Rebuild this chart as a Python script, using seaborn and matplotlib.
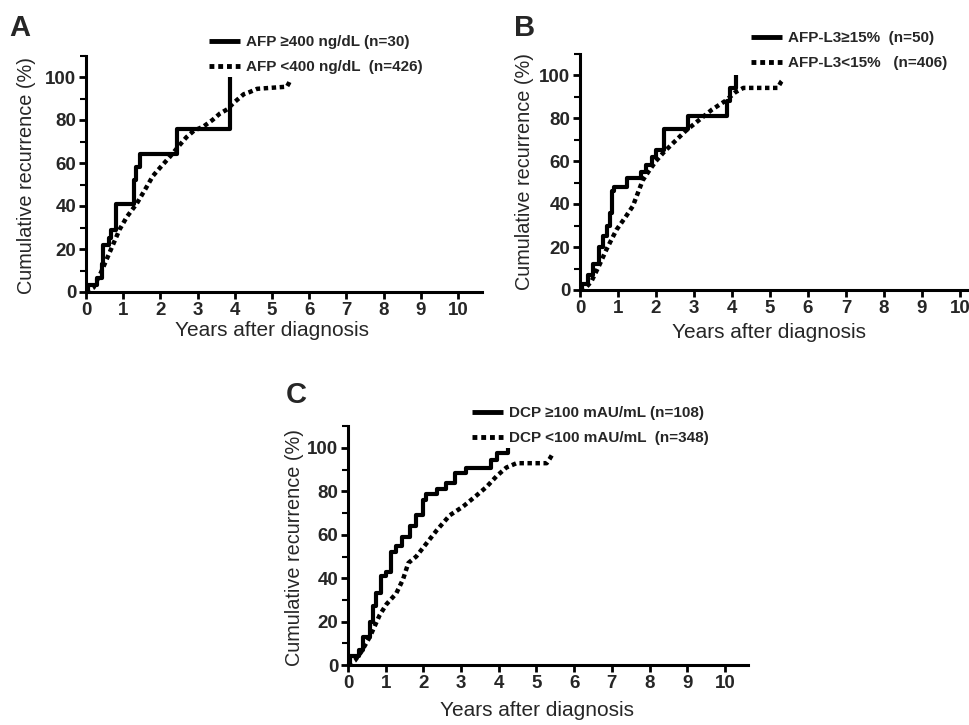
import numpy as np
import pandas as pd
import matplotlib
matplotlib.use("Agg")
import matplotlib.pyplot as plt
from matplotlib.ticker import MultipleLocator
import seaborn as sns

# ---------------- data ----------------
# Panel A: AFP
a_hi_t = [0, 0.05, 0.3, 0.42, 0.47, 0.62, 0.68, 0.8, 1.3, 1.35, 1.45, 2.45, 3.86]
a_hi_y = [0, 3.3, 6.7, 13, 22, 25, 29, 41, 52, 58, 64, 76, 100]
a_lo_t = [0, 0.2, 0.4, 0.6, 0.9, 1.1, 1.36, 1.6, 1.8, 2.0, 2.26, 2.5, 2.7, 2.9,
          3.16, 3.4, 3.6, 3.8, 3.97, 4.24, 4.4, 4.6, 5.4, 5.45, 5.5]
a_lo_y = [0, 2, 9, 17, 29, 35, 41, 48, 54, 58, 63, 68, 72, 75,
          77, 80, 83, 85, 88, 92, 93, 94.5, 95.5, 97, 99]
a_labels = ["AFP \u2265400 ng/dL (n=30)", "AFP <400 ng/dL  (n=426)"]

# Panel B: AFP-L3
b_hi_t = [0, 0.05, 0.2, 0.35, 0.5, 0.6, 0.7, 0.8, 0.85, 0.9, 1.25, 1.6, 1.75,
          1.9, 2.0, 2.2, 2.85, 3.87, 3.95, 4.1]
b_hi_y = [0, 3, 7, 12, 20, 25, 30, 36, 46, 48, 52, 55, 58,
          62, 65, 75, 81, 88, 94, 100]
b_lo_t = [0, 0.15, 0.3, 0.52, 0.7, 0.96, 1.2, 1.39, 1.65, 1.8, 2.0, 2.2, 2.43,
          2.78, 3.13, 3.48, 3.83, 4.09, 4.3, 5.2, 5.3, 5.35]
b_lo_y = [0, 1, 4, 12, 19, 28, 34, 39, 51, 55, 60, 64, 68,
          74, 79, 84, 88, 92, 94, 94, 97, 98]
b_labels = ["AFP-L3\u226515%  (n=50)", "AFP-L3<15%   (n=406)"]

# Panel C: DCP
c_hi_t = [0, 0.04, 0.3, 0.4, 0.58, 0.66, 0.75, 0.88, 1.0, 1.15, 1.28, 1.42,
          1.64, 1.81, 1.99, 2.08, 2.35, 2.6, 2.83, 3.14, 3.8, 3.94, 4.25]
c_hi_y = [0, 4, 7, 13, 20, 27, 33, 41, 43, 52, 55, 59,
          64, 69, 76, 79, 81, 84, 88.5, 91, 94.6, 97.5, 100]
c_lo_t = [0, 0.18, 0.35, 0.58, 0.84, 1.02, 1.28, 1.46, 1.6, 1.81, 2.08, 2.35,
          2.7, 3.05, 3.4, 3.67, 3.94, 4.2, 4.47, 5.27, 5.35, 5.44]
c_lo_y = [0, 2, 6, 13, 23, 28, 33, 39.5, 47, 50, 56, 62,
          69, 73, 78, 82, 87, 91, 93, 93, 95, 97.7]
c_labels = ["DCP \u2265100 mAU/mL (n=108)", "DCP <100 mAU/mL  (n=348)"]

x_ticks = list(range(0, 11))
y_ticks = [0, 20, 40, 60, 80, 100]
x_label = "Years after diagnosis"
y_label = "Cumulative recurrence (%)"

# ---------------- style ----------------
sns.set_theme(style="ticks")
plt.rcParams["font.family"] = ["Liberation Sans", "DejaVu Sans"]

W, H = 970, 725
fig = plt.figure(figsize=(W / 100, H / 100), dpi=100)
fig.patch.set_facecolor("white")


def make_axes(x0, y0, px_per_year, px_per_unit, xmax):
    right = x0 + xmax * px_per_year
    top = y0 - 110 * px_per_unit
    ax = fig.add_axes([x0 / W, 1 - y0 / H, (right - x0) / W, (y0 - top) / H])
    ax.set_xlim(0, xmax)
    ax.set_ylim(0, 110)
    return ax


def draw_panel(ax, hi_t, hi_y, lo_t, lo_y, labels, letter, letter_xy,
               leg_xy, xlabel_xy, ylabel_xy):
    xmax = ax.get_xlim()[1]
    df_hi = pd.DataFrame({"t": hi_t, "y": hi_y})
    df_lo = pd.DataFrame({"t": lo_t, "y": lo_y})
    sns.lineplot(data=df_hi, x="t", y="y", ax=ax, color="black", lw=3.0,
                 drawstyle="steps-post", estimator=None, label=labels[0],
                 solid_capstyle="butt", clip_on=False)
    sns.lineplot(data=df_lo, x="t", y="y", ax=ax, color="black", lw=3.2,
                 linestyle=(0, (1.0, 0.8)), estimator=None, label=labels[1],
                 clip_on=False)
    ax.set_xlim(0, xmax)
    ax.set_ylim(0, 110)
    for s in ["top", "right"]:
        ax.spines[s].set_visible(False)
    for s in ["left", "bottom"]:
        ax.spines[s].set_linewidth(2.2)
        ax.spines[s].set_color("black")
    ax.set_xticks(x_ticks)
    ax.set_yticks(y_ticks)
    ax.yaxis.set_minor_locator(MultipleLocator(10))
    ax.tick_params(axis="both", which="major", length=5, width=2, color="black",
                   labelsize=13.5, pad=2)
    ax.tick_params(axis="y", which="minor", length=4, width=1.5, color="black")
    for lab in ax.get_xticklabels() + ax.get_yticklabels():
        lab.set_fontweight("bold")
    ax.set_xlabel(x_label, fontsize=15, va="center")
    ax.set_ylabel(y_label, fontsize=14.3, va="center")
    ax.xaxis.set_label_coords(xlabel_xy[0] / W, 1 - xlabel_xy[1] / H,
                              transform=fig.transFigure)
    ax.yaxis.set_label_coords(ylabel_xy[0] / W, 1 - ylabel_xy[1] / H,
                              transform=fig.transFigure)
    leg = ax.legend(loc="upper left",
                    bbox_to_anchor=(leg_xy[0] / W, 1 - leg_xy[1] / H),
                    bbox_transform=fig.transFigure, frameon=False,
                    fontsize=11, handlelength=2.0, handletextpad=0.45,
                    labelspacing=0.75, borderpad=0, borderaxespad=0)
    for txt in leg.get_texts():
        txt.set_fontweight("bold")
    for ln in leg.get_lines():
        ln.set_linewidth(3.5)
    fig.text(letter_xy[0] / W, 1 - letter_xy[1] / H, letter, fontsize=21,
             fontweight="bold", ha="left", va="baseline")


axA = make_axes(86, 292, 37.2, 2.15, 10.65)
draw_panel(axA, a_hi_t, a_hi_y, a_lo_t, a_lo_y, a_labels, "A", (9, 36),
           (209, 35), (272, 330), (27, 176))

axB = make_axes(580, 290, 38.0, 2.15, 10.26)
draw_panel(axB, b_hi_t, b_hi_y, b_lo_t, b_lo_y, b_labels, "B", (514, 36),
           (751, 31), (769, 333), (525, 172))

axC = make_axes(348, 665, 37.7, 2.17, 10.6)
draw_panel(axC, c_hi_t, c_hi_y, c_lo_t, c_lo_y, c_labels, "C", (286, 403),
           (472, 406), (537, 710), (295, 547))

fig.savefig("out.png", dpi=100, facecolor="white")
